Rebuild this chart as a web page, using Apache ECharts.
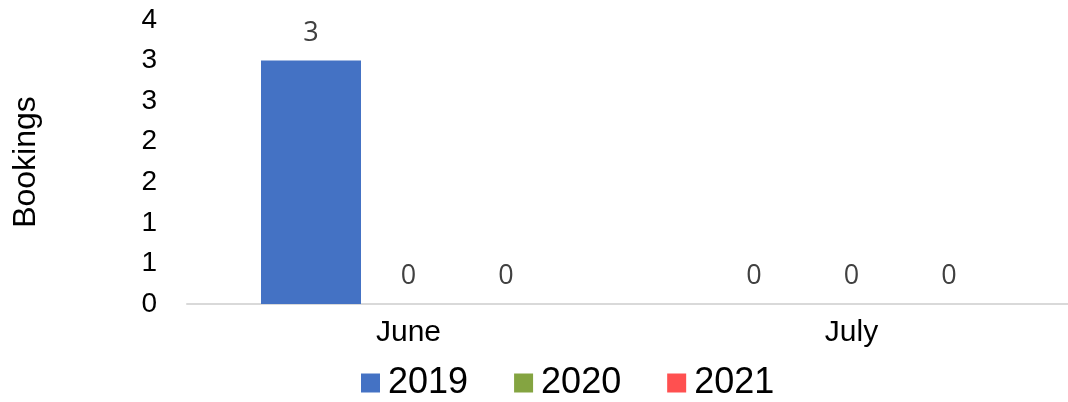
<!DOCTYPE html>
<html>
<head>
<meta charset="utf-8">
<script src="https://cdn.jsdelivr.net/npm/echarts@6/dist/echarts.min.js"></script>
<style>
  html, body { margin: 0; padding: 0; background: #fff; }
  #chart { width: 1068px; height: 402px; }
</style>
</head>
<body>
<div id="chart"></div>
<script>
// Monthly bookings by year
const months = ['June', 'July'];
const years = ['2019', '2020', '2021'];
const bookings2019 = [3, 0];
const bookings2020 = [0, 0];
const bookings2021 = [0, 0];
const yearColors = ['#4472C4', '#84A441', '#FF5050'];

const seriesValues = [bookings2019, bookings2020, bookings2021];

const chart = echarts.init(document.getElementById('chart'));
chart.setOption({
  animation: false,
  color: yearColors,
  grid: { left: 187, width: 886, top: 20, bottom: 98, outerBoundsMode: 'none', containLabel: false },
  legend: {
    data: years,
    left: 361,
    top: 365,
    padding: 0,
    itemWidth: 19,
    itemHeight: 19,
    itemGap: 46,
    icon: 'rect',
    textStyle: {
      fontFamily: 'Liberation Sans',
      fontSize: 36,
      color: '#000',
      padding: [0, 0, 0, 3]
    }
  },
  xAxis: {
    type: 'category',
    data: months,
    axisLine: { lineStyle: { color: '#D9D9D9', width: 2 } },
    axisTick: { show: false },
    axisLabel: { fontFamily: 'Liberation Sans', fontSize: 30, color: '#000', margin: 14 }
  },
  yAxis: {
    type: 'value',
    min: 0,
    max: 3.5,
    interval: 0.5,
    name: 'Bookings',
    nameLocation: 'middle',
    nameGap: 145,
    nameTextStyle: { fontFamily: 'Liberation Sans', fontSize: 32, color: '#000' },
    splitLine: { show: false },
    axisLine: { show: false },
    axisTick: { show: false },
    axisLabel: {
      fontFamily: 'Liberation Sans',
      fontSize: 28,
      color: '#000',
      margin: 30,
      formatter: v => String(Math.round(v))
    }
  },
  series: years.map((y, i) => ({
    name: y,
    type: 'bar',
    data: seriesValues[i],
    barWidth: 100,
    barGap: '-2.5%',
    label: {
      show: true,
      position: 'top',
      distance: 14,
      fontFamily: 'Open Sans',
      fontSize: 27,
      color: '#404040'
    }
  }))
});
</script>
</body>
</html>
